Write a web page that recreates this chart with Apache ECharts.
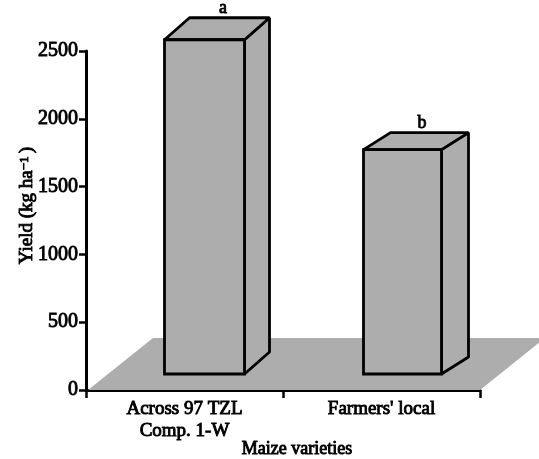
<!DOCTYPE html>
<html><head><meta charset="utf-8">
<style>html,body{margin:0;padding:0;background:#fff}#c{width:539px;height:459px}</style>
<script src="https://cdn.jsdelivr.net/npm/echarts@6/dist/echarts.min.js"></script>
</head><body><div id="c"></div>
<script>
const categories = ["Across 97 TZL\nComp. 1-W", "Farmers' local"];
const yields = [2465, 1655];
const letters = ["a", "b"];
const yTicks = [0, 500, 1000, 1500, 2000, 2500];

const FONT = '"Liberation Serif", serif';
const GREY = '#adadad';
const LW = 2.8;
const shift = [20, 21], halfW = [40, 39], lift = 16;
const depth = [[25, 22], [27, 17]];
const heavy = {textBorderColor:'#000',textBorderWidth:0.9};

const chart = echarts.init(document.getElementById('c'), null, {renderer:'canvas'});
chart.setOption({
  animation:false,
  backgroundColor:'#fff',
  grid:{left:86,right:59,top:51,bottom:69,containLabel:false,outerBoundsMode:'none'},
  xAxis:{type:'category',data:categories,
    axisLine:{lineStyle:{color:'#000',width:3}},
    axisTick:{show:true,alignWithLabel:false,length:8,lineStyle:{color:'#000',width:2.5}},
    axisLabel:{color:'#000',fontFamily:FONT,fontSize:19,lineHeight:22,margin:8,interval:0,...heavy},
    name:'Maize varieties',nameLocation:'middle',nameGap:50,nameMoveOverlap:false,
    nameTextStyle:{color:'#000',fontFamily:FONT,fontSize:18,padding:[0,0,0,28],...heavy}},
  yAxis:{type:'value',min:yTicks[0],max:yTicks[yTicks.length-1],interval:500,
    axisLine:{show:true,lineStyle:{color:'#000',width:3}},
    axisTick:{show:true,length:7,lineStyle:{color:'#000',width:2.5}},
    splitLine:{show:false},
    axisLabel:{color:'#000',fontFamily:FONT,fontSize:20,margin:8,formatter:v=>String(v),...heavy},
    name:'{a|Yield (kg ha}{s|\u22121 }{a|)}',nameLocation:'middle',nameGap:49,nameRotate:90,nameMoveOverlap:false,
    nameTextStyle:{color:'#000',fontFamily:FONT,fontSize:19,padding:[0,0,0,30],
      rich:{a:{fontFamily:FONT,fontSize:19,...heavy},s:{fontFamily:FONT,fontSize:13,verticalAlign:'top',...heavy}}}},
  series:[
    {type:'custom',coordinateSystem:'cartesian2d',clip:false,silent:true,z:1,
     data:[[0,0]],
     renderItem(p,api){
       const cs=p.coordSys, x0=cs.x+2, y0=cs.y+cs.height, x1=cs.x+cs.width;
       return {type:'polygon',shape:{points:[[x0,y0],[x0+65,y0-52],[x1+65,y0-52],[x1,y0]]},
               style:{fill:GREY,stroke:null}};
     }},
    {type:'custom',coordinateSystem:'cartesian2d',clip:false,silent:true,z:2,
     data:yields.map((v,i)=>[i,v]),
     renderItem(p,api){
       const k=p.dataIndex, i=api.value(0), top=api.coord([i,api.value(1)]), base=api.coord([i,0]);
       const [dx,dy]=depth[k];
       const l=top[0]+shift[k]-halfW[k], r=top[0]+shift[k]+halfW[k], t=top[1]-lift, b=base[1]-lift;
       const st={fill:GREY,stroke:'#000',lineWidth:LW,lineJoin:'bevel'};
       return {type:'group',children:[
         {type:'polygon',shape:{points:[[r,t],[r+dx,t-dy],[r+dx,b-dy],[r,b]]},style:st},
         {type:'polygon',shape:{points:[[l,t],[l+dx,t-dy],[r+dx,t-dy],[r,t]]},style:st},
         {type:'rect',shape:{x:l,y:t,width:r-l,height:b-t},style:{...st,lineJoin:'miter'}},
         {type:'text',style:{x:(l+r+dx)/2+6,y:t-dy,text:letters[k],align:'center',verticalAlign:'bottom',
           font:'18px '+FONT,fill:'#000',stroke:'#000',lineWidth:0.9}}
       ]};
     }}
  ]
});
</script></body></html>
